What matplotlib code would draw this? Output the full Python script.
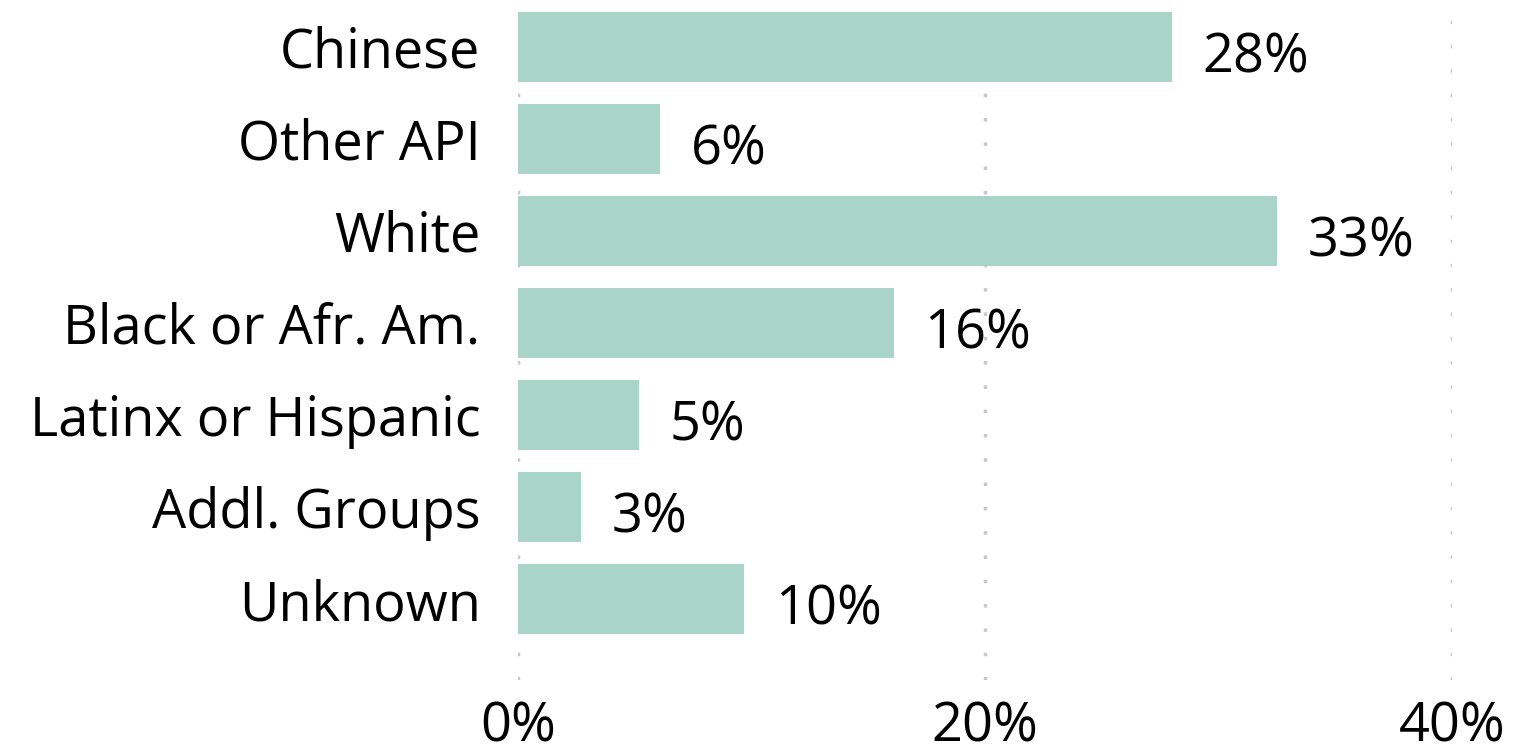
import matplotlib
matplotlib.use("Agg")
from matplotlib import pyplot as plt

groups = ["Chinese", "Other API", "White", "Black or Afr. Am.",
          "Latinx or Hispanic", "Addl. Groups", "Unknown"]
shares = [28.0, 6.1, 32.5, 16.1, 5.2, 2.7, 9.7]
labels = ["28%", "6%", "33%", "16%", "5%", "3%", "10%"]
xticks = [0, 20, 40]
xticklabels = ["0%", "20%", "40%"]


def main():
    plt.rcParams['font.family'] = ['Open Sans', 'DejaVu Sans']
    fig = plt.figure(figsize=(15.38, 7.56), dpi=100)
    ax = fig.add_axes([518 / 1538, 1 - 680 / 756, (1452 - 518) / 1538, 680 / 756])

    pos = list(range(len(groups)))
    ax.barh(pos, shares, height=0.76, color="#a9d5c8", zorder=2)
    for p, v, t in zip(pos, shares, labels):
        ax.annotate(t, (v, p), xytext=(22, -8), textcoords="offset points",
                    ha="left", va="center", fontsize=39, color="black")

    ax.set_xlim(0, 40)
    ax.set_ylim(6.88, -0.51)
    ax.set_xticks(xticks)
    ax.set_xticklabels(xticklabels, fontsize=39)
    ax.set_yticks(pos)
    ax.set_yticklabels(groups, fontsize=39)
    ax.tick_params(axis="both", length=0)
    ax.tick_params(axis="x", pad=14)
    ax.tick_params(axis="y", pad=27)
    # small grey dots, ~24px apart
    ax.grid(axis="x", color="#c8c8c8", linestyle=(0, (1, 6)), linewidth=2.5, zorder=0)
    for s in ax.spines.values():
        s.set_visible(False)

    fig.savefig("out.png", dpi=100)


if __name__ == "__main__":
    main()
